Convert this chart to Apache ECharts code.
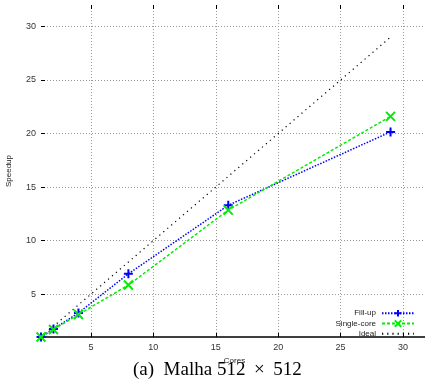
<!DOCTYPE html>
<html><head><meta charset="utf-8">
<script src="https://cdn.jsdelivr.net/npm/echarts@6/dist/echarts.min.js"></script>
<style>html,body{margin:0;padding:0;background:#fff}#c{width:425px;height:386px}</style>
</head><body><div id="c"></div>
<script>
const cores = [1, 2, 4, 8, 16, 29];
const fillUp = [1, 1.75, 3.25, 6.9, 13.3, 20.15];
const singleCore = [1, 1.7, 3.1, 5.85, 12.85, 21.6];
const idealX = [1, 29];
const idealY = [1, 29];
const xTicks = [5, 10, 15, 20, 25, 30];
const yTicks = [5, 10, 15, 20, 25, 30];
const seriesNames = ['Fill-up', 'Single-core', 'Ideal'];
const caption = '(a)  Malha 512 \u2009\u00d7\u2009 512';

const pair = (xs, ys) => xs.map((x, i) => [x, ys[i]]);
const plus = 'path://M0,5L10,5M5,0L5,10';
const cross = 'path://M0,0L10,10M10,0L0,10';
const tickFont = {fontFamily: 'Liberation Sans', fontSize: 9, color: '#333'};
const gridLine = {show: true, lineStyle: {color: '#999', type: [1, 2], width: 1}};

const chart = echarts.init(document.getElementById('c'), null, {renderer: 'canvas'});
chart.setOption({
  animation: false,
  backgroundColor: '#fff',
  grid: {left: 41, right: -3, top: 5, bottom: 49, containLabel: false, outerBoundsMode: 'none'},
  graphic: [{
    type: 'text', left: 133, top: 361,
    style: {text: caption, fontFamily: 'Liberation Serif', fontSize: 19, fill: '#000'}
  }],
  legend: {
    orient: 'vertical', right: 5, top: 304, align: 'right',
    itemWidth: 32, itemHeight: 8, itemGap: 2,
    textStyle: {fontFamily: 'Liberation Sans', fontSize: 8, color: '#222', padding: [0, 1, 0, 0]},
    data: [
      {name: seriesNames[0]},
      {name: seriesNames[1]},
      {name: seriesNames[2], itemStyle: {opacity: 0}}
    ]
  },
  xAxis: [{
    type: 'value', min: 1, max: 32,
    name: 'Cores', nameLocation: 'middle', nameGap: 19,
    nameTextStyle: {fontFamily: 'Liberation Sans', fontSize: 8, color: '#222'},
    axisLine: {show: true, onZero: false, lineStyle: {color: '#000', width: 1.5}},
    axisTick: {show: true, inside: true, length: 4, customValues: xTicks, lineStyle: {color: '#000'}},
    axisLabel: {...tickFont, margin: 6, customValues: xTicks},
    splitLine: gridLine
  }, {
    type: 'value', min: 1, max: 32, position: 'top',
    axisLine: {show: false},
    axisTick: {show: true, inside: true, length: 4, customValues: xTicks, lineStyle: {color: '#000'}},
    axisLabel: {show: false, customValues: xTicks},
    splitLine: {show: false}
  }],
  yAxis: [{
    type: 'value', min: 1, max: 32,
    name: 'Speedup', nameLocation: 'middle', nameGap: 28, nameRotate: 90,
    nameTextStyle: {fontFamily: 'Liberation Sans', fontSize: 8, color: '#222'},
    axisLine: {show: false},
    axisTick: {show: true, inside: true, length: 4, customValues: yTicks, lineStyle: {color: '#000'}},
    axisLabel: {...tickFont, margin: 5, customValues: yTicks},
    splitLine: gridLine
  }],
  series: [{
    name: seriesNames[0], type: 'line', data: pair(cores, fillUp),
    symbol: plus, symbolSize: 9,
    lineStyle: {color: '#0000ff', width: 1.5, type: [1.5, 1.5]},
    itemStyle: {color: '#0000ff', borderColor: '#0000ff', borderWidth: 2}
  }, {
    name: seriesNames[1], type: 'line', data: pair(cores, singleCore),
    symbol: cross, symbolSize: 9,
    lineStyle: {color: '#00ee00', width: 1.5, type: [3, 2]},
    itemStyle: {color: '#00ee00', borderColor: '#00ee00', borderWidth: 2}
  }, {
    name: seriesNames[2], type: 'line', data: pair(idealX, idealY),
    symbol: 'none',
    lineStyle: {color: '#000', width: 1.2, type: [1.2, 4]},
    itemStyle: {color: '#000'}
  }]
});
</script></body></html>
